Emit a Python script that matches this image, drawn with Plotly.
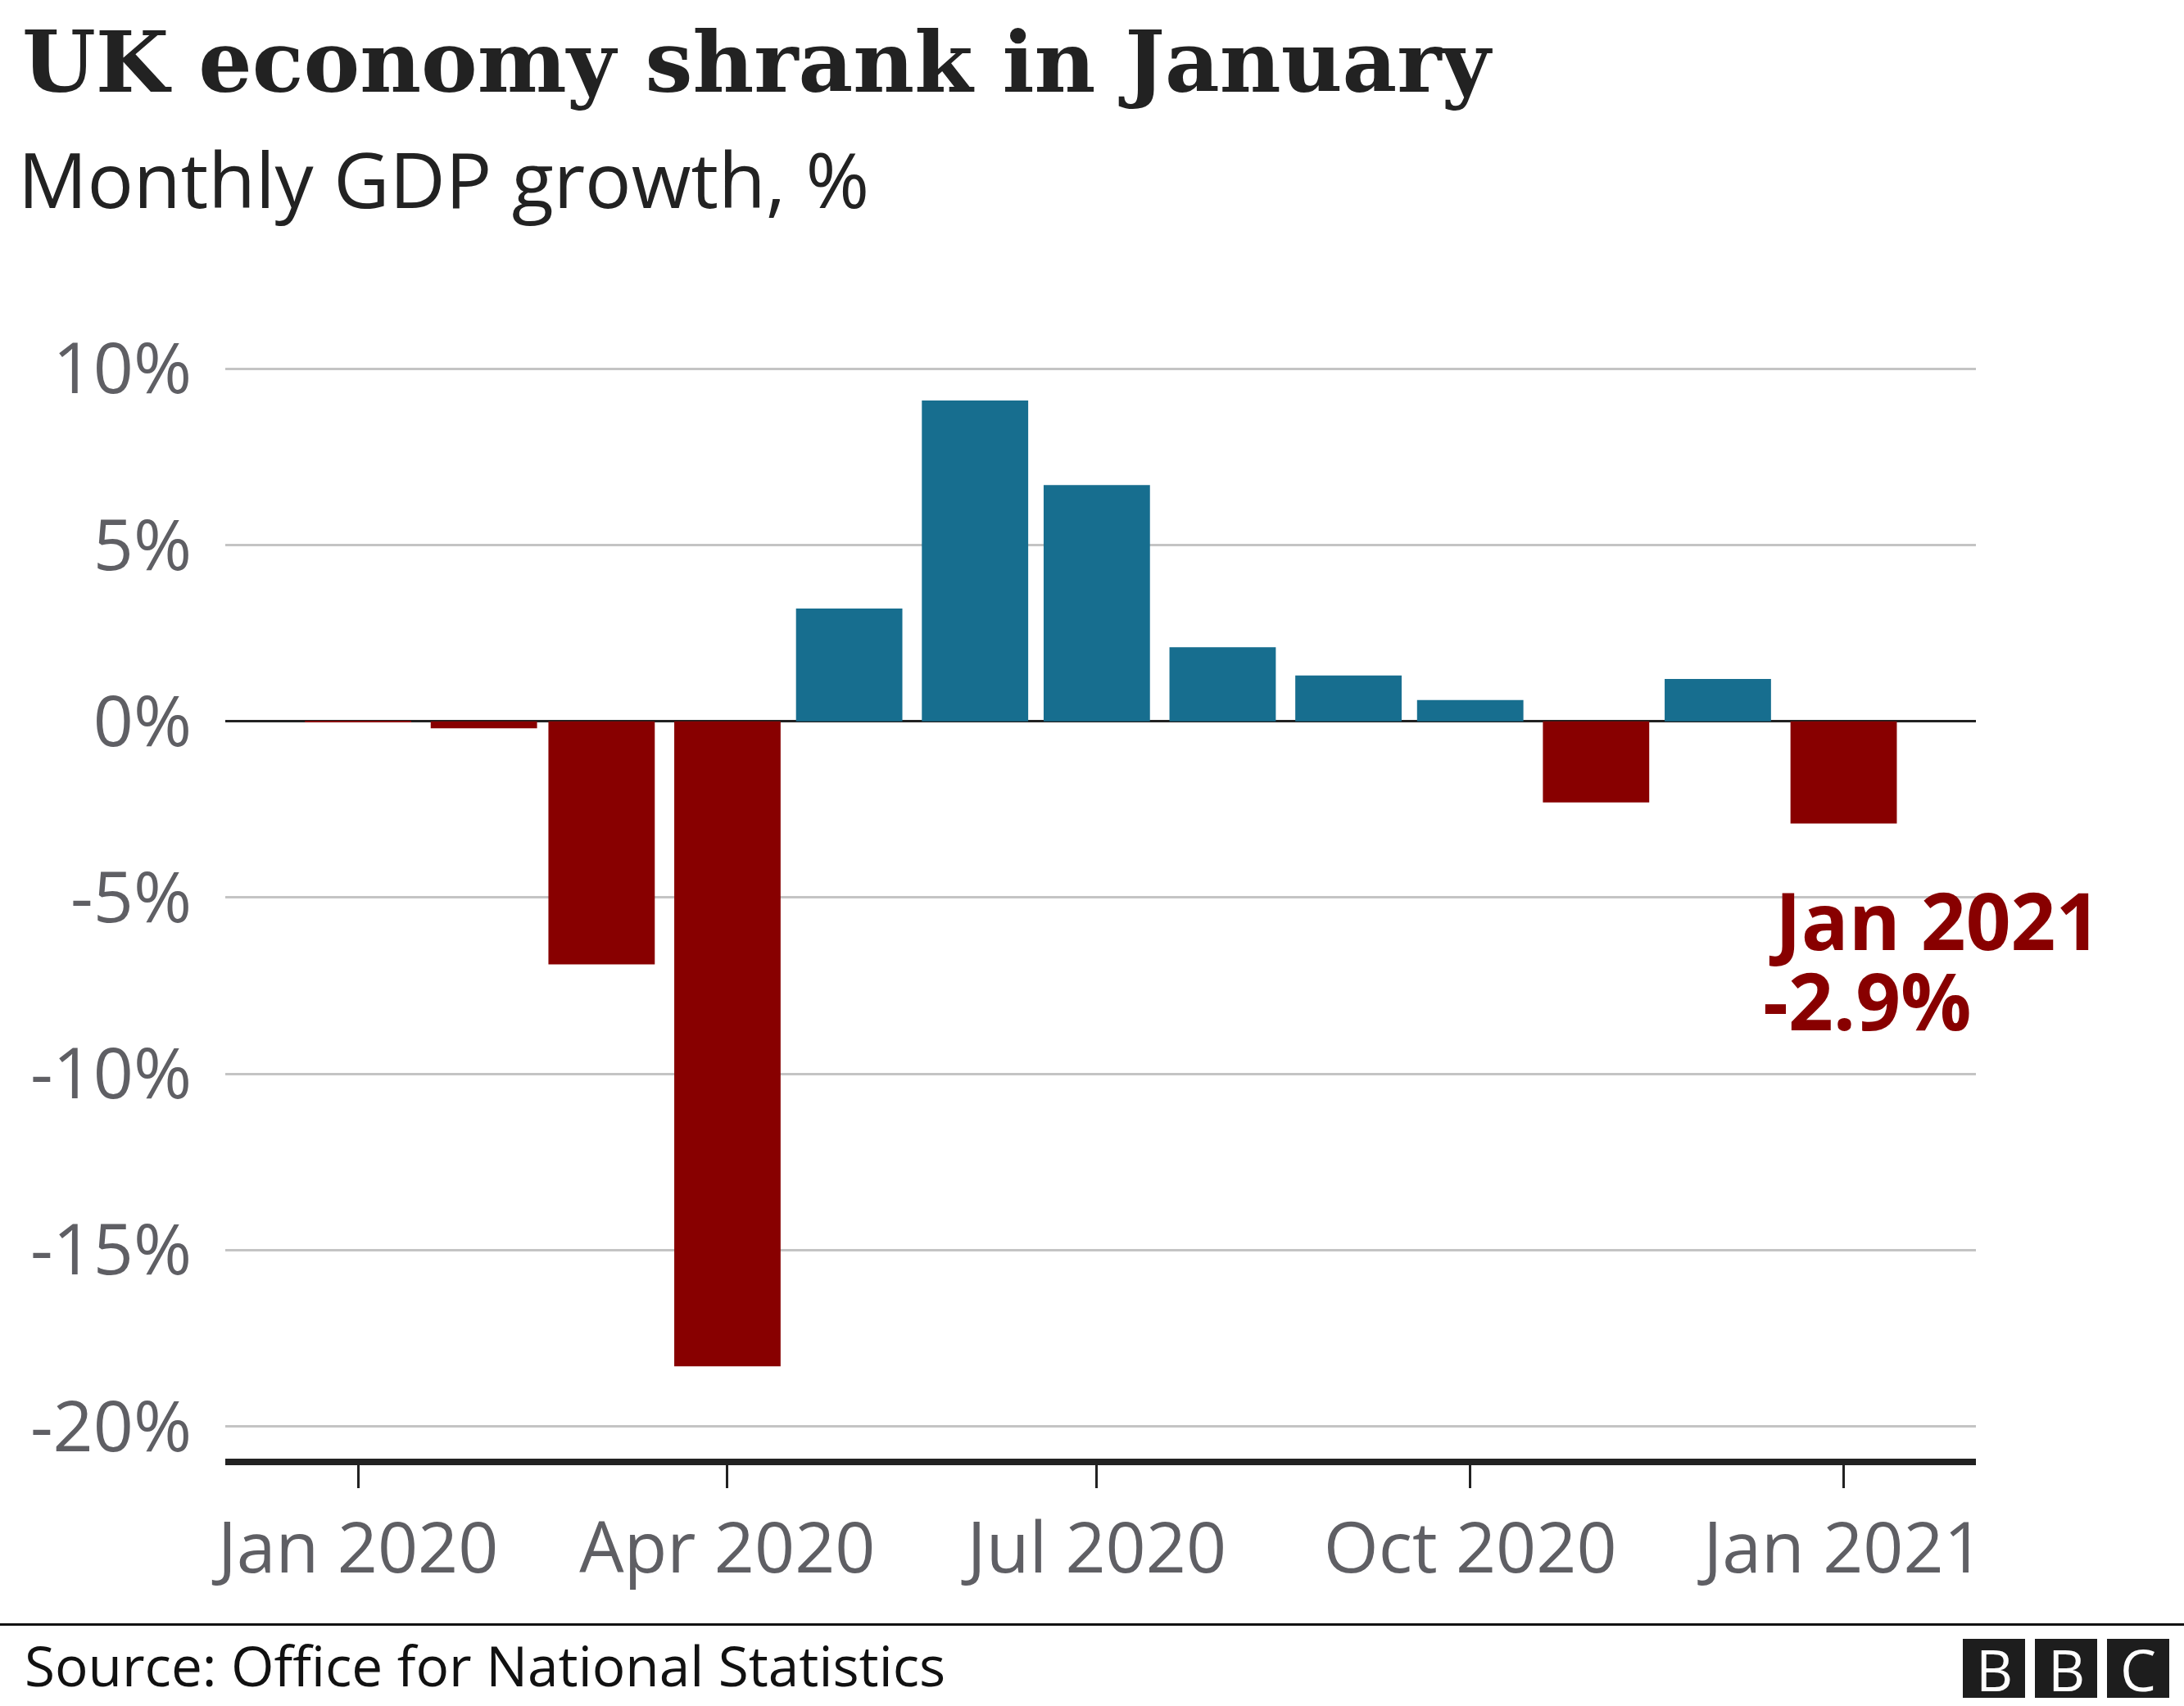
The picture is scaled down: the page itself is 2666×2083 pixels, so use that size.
import plotly.graph_objects as go

# ---- data ----
months = ["2020-01-01", "2020-02-01", "2020-03-01", "2020-04-01", "2020-05-01",
          "2020-06-01", "2020-07-01", "2020-08-01", "2020-09-01", "2020-10-01",
          "2020-11-01", "2020-12-01", "2021-01-01"]
growth = [-0.03, -0.2, -6.9, -18.3, 3.2, 9.1, 6.7, 2.1, 1.3, 0.6, -2.3, 1.2, -2.9]

x_tick_vals = ["2020-01-01", "2020-04-01", "2020-07-01", "2020-10-01", "2021-01-01"]
x_tick_text = ["Jan 2020", "Apr 2020", "Jul 2020", "Oct 2020", "Jan 2021"]
y_tick_vals = [-20, -15, -10, -5, 0, 5, 10]
y_tick_text = ["-20%", "-15%", "-10%", "-5%", "0%", "5%", "10%"]

title_text = "UK economy shrank in January"
subtitle_text = "Monthly GDP growth, %"
source_text = "Source: Office for National Statistics"
label_line1 = "Jan 2021"
label_line2 = "-2.9%"

# ---- style ----
BLUE = "#176E8F"
RED = "#880000"
GRID = "#c4c4c4"
DARK = "#222222"
TICKGREY = "#5f5f64"
SANS = "Open Sans, Noto Sans, sans-serif"
SERIF = "DejaVu Serif, serif"

W, H = 2666, 2083
L, R, T, B = 275, 254, 446, 302
PW, PH = W - L - R, H - T - B


def px(x):
    return (x - L) / PW


def py(y):
    return (H - B - y) / PH


colors = [RED if v < 0 else BLUE for v in growth]
bar_width_ms = 26.2 * 86400000

fig = go.Figure(
    go.Bar(
        x=months,
        y=growth,
        marker=dict(color=colors, line=dict(width=0)),
        width=[bar_width_ms] * len(months),
        hoverinfo="skip",
    )
)

fig.update_layout(
    width=W,
    height=H,
    margin=dict(l=L, r=R, t=T, b=B, pad=0),
    paper_bgcolor="white",
    plot_bgcolor="white",
    showlegend=False,
    xaxis=dict(
        type="date",
        range=["2019-11-29 07:00", "2021-02-02 14:00"],
        tickvals=x_tick_vals,
        ticktext=x_tick_text,
        ticks="outside",
        ticklen=28,
        tickwidth=3,
        tickcolor=DARK,
        showline=True,
        linecolor=DARK,
        linewidth=8,
        showgrid=False,
        zeroline=False,
        tickfont=dict(family=SANS, size=86, color=TICKGREY),
    ),
    yaxis=dict(
        range=[-20.92, 10.1],
        tickvals=y_tick_vals,
        ticktext=y_tick_text,
        showgrid=True,
        gridcolor=GRID,
        gridwidth=3,
        zeroline=True,
        zerolinecolor=DARK,
        zerolinewidth=3,
        ticks="",
        showline=False,
        ticklabelstandoff=40,
        tickfont=dict(family=SANS, size=86, color=TICKGREY),
    ),
)

annotations = [
    dict(text=f"<b>{title_text}</b>", x=px(25), y=py(75), xanchor="left", yanchor="middle",
         font=dict(family=SERIF, size=103, color=DARK)),
    dict(text=subtitle_text, x=px(20), y=py(218), xanchor="left", yanchor="middle",
         font=dict(family=SANS, size=94, color=DARK)),
    dict(text=source_text, x=px(28), y=py(2033), xanchor="left", yanchor="middle",
         font=dict(family=SANS, size=67.5, color="#111111")),
    dict(text=f"<b>{label_line1}</b>", x=px(2157), y=py(1122), xanchor="left", yanchor="middle",
         font=dict(family=SANS, size=96, color=RED)),
    dict(text=f"<b>{label_line2}</b>", x=px(2150), y=py(1220), xanchor="left", yanchor="middle",
         font=dict(family=SANS, size=96, color=RED)),
]

shapes = [
    dict(type="line", xref="paper", yref="paper", x0=px(0), x1=px(W), y0=py(1983.5), y1=py(1983.5),
         line=dict(color="#111111", width=3)),
]

logo_letters = ["B", "B", "C"]
logo_left = [2396, 2484, 2572]
for letter, lx in zip(logo_letters, logo_left):
    shapes.append(dict(type="rect", xref="paper", yref="paper",
                       x0=px(lx), x1=px(lx + 76), y0=py(2073), y1=py(2001),
                       fillcolor="#1d1d1d", line=dict(width=0)))
    annotations.append(dict(text=letter, x=px(lx + 38), y=py(2038), xanchor="center", yanchor="middle",
                            font=dict(family=SANS, size=70, color="white")))

for a in annotations:
    a.update(xref="paper", yref="paper", showarrow=False)

fig.update_layout(annotations=annotations, shapes=shapes)

fig.write_html(
    "out.html",
    config={"displayModeBar": False},
    post_script="document.body.style.margin='0';document.body.style.padding='0';"
                "document.documentElement.style.overflow='hidden';",
)
